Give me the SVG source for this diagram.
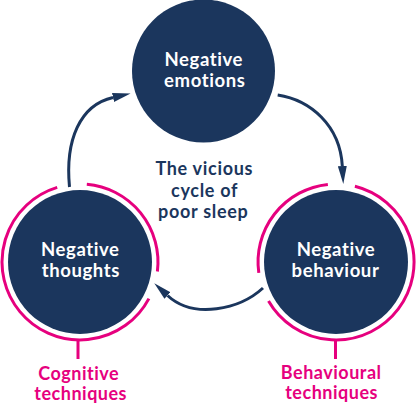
<svg xmlns="http://www.w3.org/2000/svg" width="416" height="404" viewBox="0 0 416 404">
  <style>
    .node { fill: #1b365d; }
    .ring { fill: none; stroke: #e6007e; stroke-width: 3; }
    .conn { fill: none; stroke: #1b365d; stroke-width: 3; }
    .lbl { font-family: Lato, "Liberation Sans", sans-serif; font-weight: bold; font-size: 18.5px; letter-spacing: 0.6px; fill: #ffffff; text-anchor: middle; }
    .mid { font-family: Lato, "Liberation Sans", sans-serif; font-weight: bold; font-size: 18px; letter-spacing: 0.7px; fill: #1b365d; text-anchor: middle; }
    .tech { font-family: Lato, "Liberation Sans", sans-serif; font-weight: bold; font-size: 18px; letter-spacing: 0.5px; fill: #e6007e; text-anchor: middle; }
  </style>
  <defs>
    <marker id="ah" markerUnits="userSpaceOnUse" markerWidth="18" markerHeight="9" viewBox="0 0 18 9" refX="0" refY="4.5" orient="auto">
      <path d="M0,0 L18,4.5 L0,9 z" fill="#1b365d"/>
    </marker>
  </defs>
  <rect width="416" height="404" fill="#ffffff"/>

  <g id="connectors">
    <path class="conn" d="M 69.5 187 C 65 140, 80 105, 113 97.5" marker-end="url(#ah)"/>
    <path class="conn" d="M 277.7 95 C 310 100, 340 125, 342.3 166" marker-end="url(#ah)"/>
    <path class="conn" d="M 263 288 C 240 309, 194 320, 167.5 295.5" marker-end="url(#ah)"/>
  </g>

  <g id="negative-emotions">
    <circle class="node" cx="203.5" cy="71" r="71.5"/>
    <text class="lbl" x="203.8" y="66">Negative</text>
    <text class="lbl" x="204.8" y="86.5">emotions</text>
  </g>

  <g id="cycle-label">
    <text class="mid" x="204.3" y="175">The vicious</text>
    <text class="mid" x="204.6" y="196.5">cycle of</text>
    <text class="mid" x="203.3" y="218">poor sleep</text>
  </g>

  <g id="negative-thoughts">
    <circle class="node" cx="80" cy="262" r="72"/>
    <text class="lbl" x="80.3" y="256">Negative</text>
    <text class="lbl" x="80.8" y="276.5">thoughts</text>
  </g>

  <g id="cognitive-techniques">
    <path class="ring" d="M 86.8 184.3 A 78 78 0 0 1 157.4 271.5"/>
    <path class="ring" d="M 148.9 298.6 A 78 78 0 1 1 57.2 187.4"/>
    <line class="ring" x1="78" y1="340" x2="78" y2="359"/>
    <text class="tech" x="78.7" y="380">Cognitive</text>
    <text class="tech" x="80.7" y="400">techniques</text>
  </g>

  <g id="negative-behaviour">
    <circle class="node" cx="336" cy="262" r="72"/>
    <text class="lbl" x="336" y="256">Negative</text>
    <text class="lbl" x="335.5" y="277">behaviour</text>
  </g>

  <g id="behavioural-techniques">
    <path class="ring" d="M 354.9 186.3 A 78 78 0 1 1 268.5 301"/>
    <path class="ring" d="M 258.8 272.9 A 78 78 0 0 1 327.85 184.4"/>
    <line class="ring" x1="335.5" y1="340" x2="335.5" y2="359"/>
    <text class="tech" x="331.2" y="378.5">Behavioural</text>
    <text class="tech" x="331.6" y="399">techniques</text>
  </g>
</svg>
